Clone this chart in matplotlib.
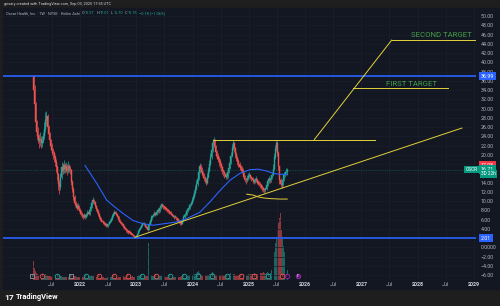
import numpy as np
import pandas as pd
import matplotlib
matplotlib.use('Agg')
import matplotlib.pyplot as plt
from matplotlib.patches import Rectangle

plt.rcParams['font.family'] = ['Roboto', 'DejaVu Sans']

# OSCR weekly Heikin Ashi candles, one per week from 2021-03-05
first_open = 37.0
closes = [
    34.0, 31.0, 27.0, 25.0, 24.0, 23.0, 23.5, 22.5, 23.0, 24.0,
    25.5, 27.5, 28.5, 26.0, 24.5, 23.2, 22.0, 21.0, 20.3, 19.5,
    18.5, 17.4, 15.8, 13.6, 13.0, 15.2, 17.4, 16.6, 17.8, 16.9,
    17.5, 16.6, 17.6, 17.0, 16.7, 14.2, 12.6, 11.0, 9.5, 9.1,
    8.6, 8.9, 8.2, 7.8, 7.3, 6.9, 6.6, 7.0, 6.6, 7.0,
    7.5, 7.3, 8.0, 8.8, 9.6, 10.2, 9.8, 9.0, 8.3, 7.9,
    7.2, 6.6, 6.1, 5.8, 5.5, 5.2, 5.0, 4.8, 4.7, 5.0,
    5.4, 5.8, 6.2, 6.8, 7.2, 7.6, 7.2, 6.9, 6.6, 6.0,
    5.6, 5.2, 5.0, 4.6, 4.2, 4.0, 3.7, 3.5, 3.3, 3.2,
    3.0, 2.9, 2.6, 2.4, 2.2, 2.4, 2.9, 3.5, 3.9, 4.3,
    4.7, 5.0, 5.1, 4.8, 4.5, 4.2, 3.8, 4.9, 5.7, 6.5,
    6.7, 7.0, 7.3, 7.1, 7.6, 8.0, 7.8, 8.5, 9.0, 9.1,
    8.8, 8.6, 8.4, 8.2, 8.0, 7.8, 7.6, 7.3, 7.0, 6.8,
    6.5, 6.6, 6.3, 6.0, 5.8, 5.5, 5.2, 5.1, 5.8, 6.5,
    7.0, 7.3, 7.8, 8.2, 8.6, 9.1, 9.6, 10.3, 10.9, 11.8,
    12.6, 13.6, 14.8, 16.4, 17.6, 17.0, 16.2, 15.6, 15.0, 14.5,
    14.0, 15.2, 16.5, 18.0, 19.5, 21.0, 22.6, 23.1, 21.8, 20.6,
    19.8, 19.2, 18.5, 18.0, 17.3, 16.6, 16.2, 15.8, 15.3, 15.4,
    16.4, 17.2, 18.2, 19.8, 21.5, 22.6, 21.4, 20.2, 19.3, 18.6,
    18.0, 17.4, 17.2, 16.8, 16.2, 15.3, 14.8, 14.5, 15.0, 15.4,
    15.5, 15.3, 14.9, 14.6, 14.2, 14.5, 14.8, 14.3, 14.0, 13.8,
    13.5, 13.1, 12.8, 12.5, 12.3, 12.6, 13.5, 14.4, 14.8, 14.5,
    15.0, 15.6, 17.0, 19.5, 21.2, 22.6, 20.5, 17.5, 14.6, 13.8,
    13.4, 14.6, 15.6, 15.9, 16.4, 16.75,
]
highs = [
    37.2, 35.0, 31.5, 27.5, 26.0, 24.5, 25.0, 24.0, 24.0, 25.0,
    27.0, 29.3, 29.5, 28.8, 26.5, 25.0, 23.5, 22.5, 21.5, 20.8,
    20.0, 19.0, 17.8, 16.0, 14.5, 16.0, 18.5, 18.2, 18.8, 18.3,
    18.5, 18.0, 18.6, 18.0, 17.5, 17.0, 14.5, 13.0, 11.3, 10.0,
    9.5, 9.5, 9.2, 8.5, 8.0, 7.6, 7.1, 7.5, 7.2, 7.4,
    8.0, 7.9, 8.5, 9.4, 10.3, 10.8, 10.5, 10.0, 9.2, 8.5,
    8.1, 7.4, 6.8, 6.3, 6.0, 5.7, 5.4, 5.2, 5.0, 5.3,
    5.8, 6.2, 6.6, 7.3, 7.7, 8.0, 7.8, 7.4, 7.0, 6.7,
    6.2, 5.8, 5.4, 5.1, 4.7, 4.4, 4.1, 3.9, 3.7, 3.5,
    3.3, 3.2, 3.0, 2.7, 2.5, 2.7, 3.2, 3.8, 4.3, 4.7,
    5.1, 5.4, 5.5, 5.2, 4.9, 4.6, 4.3, 5.6, 6.2, 7.0,
    7.1, 7.4, 7.8, 7.6, 8.1, 8.5, 8.3, 9.0, 9.4, 9.6,
    9.3, 9.0, 8.8, 8.6, 8.4, 8.2, 8.0, 7.8, 7.5, 7.2,
    7.0, 6.9, 6.7, 6.4, 6.2, 5.9, 5.6, 5.4, 6.1, 6.9,
    7.4, 7.7, 8.2, 8.6, 9.1, 9.6, 10.1, 10.9, 11.6, 12.5,
    13.4, 14.5, 15.8, 17.4, 18.3, 18.0, 17.3, 16.5, 16.0, 15.4,
    14.9, 16.0, 17.3, 18.8, 20.4, 22.0, 23.5, 23.8, 23.4, 22.2,
    21.0, 20.3, 19.6, 19.0, 18.3, 17.6, 17.0, 16.6, 16.1, 16.0,
    17.0, 18.0, 19.0, 20.7, 22.3, 23.2, 22.8, 21.7, 20.6, 19.7,
    19.0, 18.4, 17.9, 17.6, 17.1, 16.4, 15.6, 15.1, 15.6, 16.0,
    16.2, 15.9, 15.5, 15.2, 14.8, 15.1, 15.4, 15.0, 14.6, 14.3,
    14.1, 13.8, 13.4, 13.1, 12.8, 13.1, 14.0, 15.0, 15.4, 15.1,
    15.6, 16.4, 18.0, 20.5, 22.2, 23.2, 22.9, 20.8, 17.7, 15.0,
    14.3, 15.3, 16.3, 16.6, 17.1, 17.1,
]
lows = [
    33.0, 29.5, 25.5, 23.5, 22.5, 21.5, 22.0, 21.5, 21.8, 22.5,
    23.5, 25.0, 26.5, 25.0, 23.5, 22.2, 21.0, 20.0, 19.2, 18.5,
    17.5, 16.2, 14.5, 12.5, 11.5, 12.5, 14.8, 15.8, 16.0, 16.0,
    16.2, 15.7, 16.0, 16.2, 15.8, 13.5, 12.0, 10.3, 9.0, 8.5,
    8.0, 8.2, 7.8, 7.3, 6.8, 6.4, 6.1, 6.3, 6.2, 6.4,
    6.8, 6.9, 7.1, 7.8, 8.6, 9.4, 9.3, 8.6, 7.9, 7.4,
    6.8, 6.2, 5.7, 5.4, 5.1, 4.9, 4.7, 4.5, 4.4, 4.5,
    4.8, 5.2, 5.6, 6.0, 6.6, 7.0, 6.9, 6.5, 6.2, 5.7,
    5.3, 4.9, 4.7, 4.3, 3.9, 3.7, 3.4, 3.2, 3.0, 2.9,
    2.7, 2.6, 2.4, 2.2, 2.0, 2.1, 2.3, 2.8, 3.4, 3.8,
    4.2, 4.6, 4.8, 4.5, 4.2, 3.9, 3.5, 3.7, 4.8, 5.6,
    6.2, 6.5, 6.8, 6.7, 6.9, 7.4, 7.4, 7.6, 8.3, 8.7,
    8.4, 8.2, 8.0, 7.8, 7.6, 7.4, 7.2, 6.9, 6.7, 6.5,
    6.2, 6.3, 6.0, 5.7, 5.5, 5.2, 4.9, 4.8, 5.0, 5.7,
    6.4, 6.8, 7.1, 7.6, 8.0, 8.4, 8.9, 9.4, 10.1, 10.7,
    11.5, 12.3, 13.3, 14.5, 16.0, 16.3, 15.6, 15.0, 14.4, 13.9,
    13.5, 13.8, 15.0, 16.2, 17.7, 19.2, 20.6, 22.0, 21.0, 19.8,
    19.0, 18.4, 17.7, 17.2, 16.6, 15.9, 15.5, 15.1, 14.7, 14.8,
    15.1, 16.0, 16.9, 18.0, 19.5, 21.0, 20.6, 19.4, 18.6, 17.9,
    17.3, 16.8, 16.5, 16.1, 15.5, 14.6, 14.1, 13.8, 14.1, 14.6,
    14.9, 14.7, 14.3, 14.0, 13.6, 13.9, 14.2, 13.8, 13.5, 13.2,
    12.9, 12.6, 12.2, 12.0, 11.8, 12.0, 12.4, 13.2, 14.0, 14.0,
    14.2, 14.7, 15.4, 16.8, 19.2, 20.8, 19.8, 16.8, 13.8, 13.1,
    12.9, 13.2, 14.4, 15.2, 15.6, 15.7,
]

# weekly volume, millions of shares
volumes = [
    40, 25, 18, 14, 12, 10, 9, 8, 8, 9,
    10, 12, 11, 9, 8, 7, 7, 6, 6, 7,
    8, 9, 10, 12, 10, 8, 7, 6, 6, 5,
    5, 6, 5, 5, 6, 9, 10, 9, 8, 7,
    6, 6, 6, 5, 5, 6, 5, 5, 5, 6,
    6, 7, 7, 8, 9, 8, 7, 6, 6, 5,
    6, 7, 6, 5, 5, 5, 4, 4, 4, 5,
    5, 6, 6, 7, 6, 5, 5, 5, 4, 5,
    5, 6, 6, 7, 6, 6, 7, 6, 6, 5,
    6, 6, 7, 6, 6, 7, 8, 9, 10, 9,
    8, 8, 9, 8, 7, 8, 9, 80, 12, 10,
    8, 8, 7, 7, 8, 8, 7, 8, 9, 8,
    7, 7, 6, 6, 6, 6, 6, 6, 5, 5,
    5, 6, 6, 5, 5, 6, 6, 7, 8, 8,
    8, 7, 8, 8, 9, 9, 10, 11, 12, 12,
    13, 14, 16, 18, 15, 12, 11, 10, 10, 9,
    10, 10, 11, 12, 13, 14, 16, 14, 12, 11,
    10, 10, 9, 9, 9, 10, 10, 10, 11, 10,
    11, 12, 13, 15, 14, 13, 12, 11, 10, 10,
    10, 9, 9, 10, 11, 12, 12, 11, 11, 12,
    12, 13, 12, 12, 13, 14, 13, 12, 12, 13,
    14, 14, 15, 16, 14, 13, 15, 16, 14, 13,
    15, 22, 43, 60, 80, 93, 110, 124, 135, 148,
    110, 93, 75, 60, 35, 20,
]

# 50 week moving average
ma_dates = ['2022-02-02', '2022-03-08', '2022-04-20', '2022-06-23', '2022-08-16',
            '2022-10-08', '2022-12-12', '2023-02-15', '2023-04-21', '2023-06-25',
            '2023-09-19', '2023-11-23', '2024-02-17', '2024-04-22', '2024-06-27',
            '2024-08-30', '2024-11-03', '2025-01-08', '2025-03-03', '2025-04-26',
            '2025-06-08', '2025-07-21', '2025-09-03']
ma_values = [17.7, 16.0, 13.8, 10.2, 8.7, 7.3, 5.8, 5.1, 4.8, 5.1, 5.5, 6.2,
             7.6, 9.8, 12.3, 14.5, 16.0, 16.8, 16.9, 16.5, 16.0, 15.8, 15.8]

# earnings events: b = beat, m = miss, n = no estimate, u/f = upcoming
event_dates = ['2021-02-25', '2021-05-01', '2021-08-06', '2021-11-01', '2022-02-07',
               '2022-05-04', '2022-08-09', '2022-11-09', '2023-02-05', '2023-05-07',
               '2023-08-07', '2023-11-05', '2024-02-06', '2024-05-08', '2024-08-09',
               '2024-11-07', '2025-02-05', '2025-05-07', '2025-08-06', '2025-09-04',
               '2025-11-12']
event_kinds = ['n', 'm', 'b', 'n', 'b', 'm', 'm', 'm', 'b', 'm', 'b', 'b', 'b', 'b',
               'b', 'm', 'm', 'b', 'm', 'u', 'f']

# drawings
support_levels = [36.99, 2.01]
trend_dates = ['2022-12-23', '2028-10-14']
trend_prices = [2.2, 25.8]
resist_dates = ['2024-05-14', '2027-03-29']
resist_price = 23.3
path_dates = ['2026-03-01', '2027-07-16']
path_prices = [23.3, 44.8]
target2_dates = ['2027-07-16', '2029-02-01']
target2_price = 44.8
target1_dates = ['2026-11-08', '2028-07-13']
target1_price = 34.35
curve_dates = ['2024-12-17', '2025-01-29', '2025-03-03', '2025-04-04',
               '2025-05-17', '2025-07-21', '2025-09-06']
curve_prices = [11.5, 11.3, 10.9, 10.7, 10.55, 10.45, 10.45]

price_ticks = list(range(-6, 52, 2))
time_ticks = ['2021-07-01', '2022-01-01', '2022-07-01', '2023-01-01', '2023-07-01',
              '2024-01-01', '2024-07-01', '2025-01-01', '2025-07-01', '2026-01-01',
              '2026-07-01', '2027-01-01', '2027-07-01', '2028-01-01', '2028-07-01',
              '2029-01-01']
time_labels = ['Jul', '2022', 'Jul', '2023', 'Jul', '2024', 'Jul', '2025', 'Jul',
               '2026', 'Jul', '2027', 'Jul', '2028', 'Jul', '2029']

UP = '#26a69a'
DOWN = '#ef5350'
BG = '#131722'
TXT = '#b2b5be'
YEL = '#e3d13b'
BLUE = '#2962ff'

weeks = pd.date_range('2021-03-05', periods=len(closes), freq='7D')
closes = np.array(closes)
opens = np.concatenate([[first_open], closes[:-1]])
up = closes >= opens
colors = np.where(up, UP, DOWN)

fig = plt.figure(figsize=(5, 3.06), dpi=100, facecolor='#1e1e1e')
fig.add_artist(Rectangle((3 / 500, 1 - 289 / 306), 497 / 500, 281 / 306,
                         transform=fig.transFigure, color=BG, zorder=0))
ax = fig.add_axes([3 / 500, 1 - 279.5 / 306, 473 / 500, 271.5 / 306])
vax = ax.twinx()
ax.set_zorder(vax.get_zorder() + 1)
ax.patch.set_visible(False)
vax.patch.set_visible(False)

xmin, xmax = pd.Timestamp('2020-08-19'), pd.Timestamp('2029-01-13')
ax.set_xlim(xmin, xmax)
ax.set_ylim(-6.93, 51.73)

# volume
vax.bar(weeks, volumes, width=6, color=colors, alpha=0.55, linewidth=0)
vax.set_ylim(0, 600)
vax.set_axis_off()

# grid
for t in time_ticks:
    ax.axvline(pd.Timestamp(t), color='#1c2030', lw=0.5, zorder=0)
for p in price_ticks:
    ax.axhline(p, color='#1a1e2a', lw=0.5, zorder=0)

# candles: wicks then bodies
ax.vlines(weeks, lows, highs, colors=colors, lw=0.5, zorder=3)
bottoms = np.minimum(opens, closes)
heights = np.maximum(np.abs(closes - opens), 0.3)
ax.bar(weeks, heights, bottom=bottoms, width=6.5, color=colors, edgecolor=colors,
       linewidth=0.3, zorder=3)

ax.plot(pd.to_datetime(ma_dates), ma_values, color=BLUE, lw=0.8, zorder=4)
ax.axhline(closes[-1], color=UP, lw=0.5, ls=(0, (1, 1.5)), alpha=0.6, zorder=2)
for lvl in support_levels:
    ax.axhline(lvl, color=BLUE, lw=1.2, zorder=4)

# yellow drawings
ax.plot(pd.to_datetime(trend_dates), trend_prices, color=YEL, lw=0.7, zorder=5)
ax.plot(pd.to_datetime(resist_dates), [resist_price] * 2, color=YEL, lw=0.7, zorder=5)
ax.plot(pd.to_datetime(path_dates), path_prices, color=YEL, lw=0.7, zorder=5)
ax.plot(pd.to_datetime(target2_dates), [target2_price] * 2, color=YEL, lw=0.7, zorder=5)
ax.plot(pd.to_datetime(target1_dates), [target1_price] * 2, color=YEL, lw=0.7, zorder=5)
ax.plot(pd.to_datetime(curve_dates), curve_prices, color=YEL, lw=0.7, zorder=5)
ax.text(pd.Timestamp('2028-05-31'), 45.85, 'SECOND TARGET', color='#43a047',
        fontsize=5.6, ha='center', va='center', zorder=6)
ax.text(pd.Timestamp('2027-11-23'), 35.3, 'FIRST TARGET', color='#43a047',
        fontsize=5.6, ha='center', va='center', zorder=6)

# earnings markers
ev_col = {'b': UP, 'm': DOWN, 'n': '#9598a1', 'u': '#9c27b0', 'f': '#9c27b0'}
ev_face = {'b': BG, 'm': BG, 'n': BG, 'u': BG, 'f': '#5a1a6b'}
xtr = ax.get_xaxis_transform()
for d, k in zip(event_dates, event_kinds):
    ax.scatter([pd.Timestamp(d)], [0.013], s=11, marker='o' if k != 'n' else 's',
               facecolor=ev_face[k], edgecolor=ev_col[k], linewidth=0.6,
               transform=xtr, zorder=7, clip_on=False)
    ax.text(pd.Timestamp(d), 0.013, 'E', color=ev_col[k] if k != 'f' else 'white',
            fontsize=2.3, ha='center', va='center', transform=xtr, zorder=8)

# axes styling
for s in ax.spines.values():
    s.set_visible(False)
ax.set_xticks([])
ax.yaxis.tick_right()
ax.set_yticks(price_ticks)
ylabels = []
for p in price_ticks:
    if p in (2, 16, 18):
        ylabels.append('')
    elif p == 0:
        ylabels.append('0.0000')
    elif p < 0:
        ylabels.append('\u2212%.2f' % -p)
    else:
        ylabels.append('%.2f' % p)
ax.set_yticklabels(ylabels)
ax.tick_params(axis='y', length=0, pad=3.6, labelsize=3.8, colors=TXT)

# time axis labels
clip = Rectangle((0, 0), 476 / 500, 1, transform=fig.transFigure)
for t, lab in zip(time_ticks, time_labels):
    tx = ax.text(pd.Timestamp(t), -0.017, lab, transform=xtr, ha='center', va='center',
                 fontsize=3.8, color='#d1d4dc' if lab != 'Jul' else TXT,
                 fontweight='bold' if lab != 'Jul' else 'normal', clip_on=False)
    tx.set_clip_path(clip)

# price labels on the scale
ytr = ax.get_yaxis_transform()
box = dict(boxstyle='square,pad=0.3', ec='none')
ax.text(1.0106, 36.99, '36.99', transform=ytr, fontsize=3.8, color='white', va='center',
        bbox=dict(box, fc=BLUE), clip_on=False)
ax.text(1.0106, 2.01, '2.01', transform=ytr, fontsize=3.8, color='white', va='center',
        bbox=dict(box, fc=BLUE), clip_on=False)
ax.text(1.0106, 17.8, '17.08', transform=ytr, fontsize=3.8, color='white', va='center',
        bbox=dict(box, fc='#f23645'), clip_on=False)
ax.text(1.0106, 16.82, '16.71', transform=ytr, fontsize=3.8, color='white', va='center',
        bbox=dict(box, fc='#089981'), clip_on=False)
ax.text(1.0106, 15.87, '3D 22h', transform=ytr, fontsize=3.4, color='white', va='center',
        bbox=dict(box, fc='#089981'), clip_on=False)
ax.text(0.9905, 16.82, 'OSCR', transform=ytr, fontsize=3.4, color='white', va='center',
        ha='center', bbox=dict(box, fc='#089981'), clip_on=False)

# header
fig.text(4 / 500, 1 - 4 / 306, 'gnsary created with TradingView.com, Sep 03, 2025 17:55 UTC',
         fontsize=2.8, color='#d1d4dc', va='center')
hy = 1 - 13 / 306
fig.canvas.draw()
rend = fig.canvas.get_renderer()
parts = [('Oscar Health, Inc. \u00b7 1W \u00b7 NYSE \u00b7 Heikin Ashi', TXT, 2.0),
         ('O', TXT, 0.3), ('16.27', UP, 2.0), ('H', TXT, 0.3), ('17.01', UP, 2.0),
         ('L', TXT, 0.3), ('15.70', UP, 2.0), ('C', TXT, 0.3), ('16.75', UP, 1.5),
         ('\u22120.18 (\u22121.06%)', UP, 0)]
xp = 6.0
for s, c, gap in parts:
    t = fig.text(xp / 500, hy, s, fontsize=2.8, color=c, va='center')
    xp += t.get_window_extent(renderer=rend).width + gap

# footer logo
fig.text(4 / 500, 1 - 297 / 306, '17', fontsize=6, fontweight='bold', color='white', va='center')
fig.text(16 / 500, 1 - 297 / 306, 'TradingView', fontsize=5.4, fontweight='bold',
         color='white', va='center')

fig.savefig('out.png', dpi=100, facecolor=fig.get_facecolor())
